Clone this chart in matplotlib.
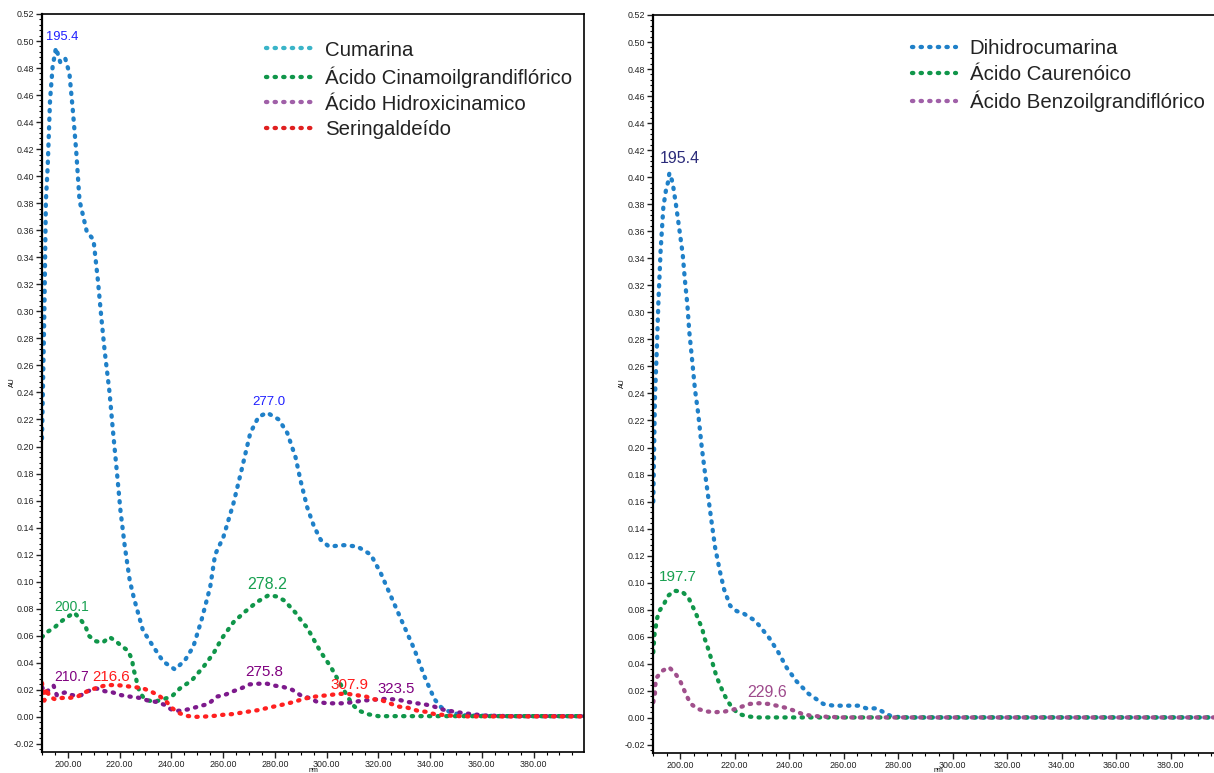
import matplotlib
matplotlib.use("Agg")
import matplotlib.pyplot as plt
from matplotlib.lines import Line2D
from matplotlib.ticker import MultipleLocator, FormatStrFormatter

plt.rcParams['font.family'] = ['Liberation Sans', 'DejaVu Sans']

# ---- left panel data (nm, AU) ----
cum_nm = [190, 190.9, 191.5, 192.2, 193.1, 194.1, 195.4, 197.1, 199, 200.6, 201.9, 203.2,
          204.5, 207.3, 209.9, 211.6, 212.9, 214.2, 216.1, 217.4, 219, 220.3, 222, 223.9,
          225.5, 229, 233, 236.8, 241.4, 245.3, 248.5, 251.7, 255, 256.9, 260.1, 264,
          267.3, 270.5, 273.7, 277, 281.5, 284.8, 288, 289.9, 292.5, 295.1, 297.7, 300.9,
          306.7, 311.9, 317.1, 321, 324.9, 328.8, 333.9, 337.8, 341.7, 344.3, 348.2, 354,
          370, 400]
cum_au = [0.206, 0.299, 0.382, 0.407, 0.456, 0.481, 0.495, 0.484, 0.487, 0.476, 0.449, 0.419,
          0.382, 0.359, 0.353, 0.323, 0.296, 0.271, 0.240, 0.212, 0.180, 0.153, 0.126, 0.101,
          0.088, 0.064, 0.052, 0.041, 0.035, 0.042, 0.052, 0.072, 0.096, 0.120, 0.133, 0.158,
          0.184, 0.210, 0.222, 0.225, 0.220, 0.210, 0.192, 0.175, 0.155, 0.141, 0.131, 0.126,
          0.127, 0.126, 0.120, 0.106, 0.089, 0.072, 0.050, 0.030, 0.013, 0.007, 0.003, 0.001,
          0.0005, 0.0005]

cin_nm = [190, 192.2, 194.8, 197, 199.9, 202.5, 204.9, 206.8, 208.1, 210.6, 213.5, 216.1,
          218.5, 221, 223.2, 224.9, 225.2, 226.2, 226.8, 227.8, 229.7, 233.2, 236.8, 240.1,
          243.3, 247.9, 252.4, 256.3, 259.5, 264, 268.6, 273.1, 277.6, 280.8, 283.7, 288,
          290.6, 292.5, 294.5, 297.7, 301.6, 304.8, 308.1, 310, 312.6, 315.8, 320, 400]
cin_au = [0.059, 0.063, 0.066, 0.070, 0.074, 0.077, 0.072, 0.067, 0.060, 0.056, 0.055, 0.059,
          0.056, 0.052, 0.049, 0.042, 0.036, 0.030, 0.024, 0.018, 0.013, 0.011, 0.013, 0.015,
          0.021, 0.027, 0.037, 0.047, 0.058, 0.070, 0.078, 0.085, 0.090, 0.089, 0.086, 0.077,
          0.070, 0.066, 0.059, 0.048, 0.037, 0.026, 0.015, 0.009, 0.0045, 0.002, 0.0005, 0.0005]

hid_nm = [190, 191.2, 192.8, 194.5, 195.7, 198.7, 201.7, 205.1, 207.7, 211, 214.2, 217.4,
          220.7, 223.9, 227.8, 231, 234.3, 237.2, 240.7, 244, 247.5, 251.1, 254.3, 257.6,
          260.4, 264, 266.9, 270.2, 273.7, 277, 280.2, 283.4, 286.7, 289.9, 293.1, 296.4,
          300.3, 303.5, 306.7, 310.6, 313.9, 317.4, 321, 324.2, 328.1, 331.4, 335, 338.5,
          341.7, 345.6, 348.8, 352, 356, 361, 370, 400]
hid_au = [0.022, 0.018, 0.020, 0.023, 0.016, 0.018, 0.016, 0.016, 0.019, 0.021, 0.019, 0.018,
          0.016, 0.015, 0.014, 0.012, 0.011, 0.009, 0.0045, 0.0045, 0.006, 0.008, 0.0095, 0.015,
          0.016, 0.019, 0.021, 0.024, 0.0245, 0.0245, 0.023, 0.022, 0.020, 0.016, 0.014, 0.011,
          0.010, 0.010, 0.010, 0.011, 0.012, 0.0125, 0.0132, 0.0132, 0.0125, 0.011, 0.010, 0.009,
          0.0075, 0.005, 0.004, 0.003, 0.002, 0.001, 0.0005, 0.0005]

ser_nm = [190, 190.5, 190.9, 191.8, 192.8, 195, 197.8, 200.6, 203.8, 206.4, 209, 212,
          215.1, 218.5, 221.7, 225.2, 228.4, 231.9, 235.3, 238.2, 240.1, 242.7, 245.9, 249.5,
          252.9, 256.5, 259.9, 263.4, 266.9, 270.2, 273.7, 277, 280.6, 284.1, 287.3, 290.6,
          293.8, 297.7, 300.9, 304.4, 308.1, 311.7, 315.2, 318.4, 321.7, 324.9, 328.1, 331.4,
          335.2, 338.5, 341.7, 345.6, 348.8, 355, 400]
ser_au = [0.025, 0.018, 0.012, 0.021, 0.015, 0.013, 0.014, 0.014, 0.015, 0.018, 0.020, 0.022,
          0.0235, 0.0235, 0.023, 0.022, 0.0215, 0.019, 0.0155, 0.011, 0.0067, 0.003, 0.0007, 0.0,
          0.0002, 0.0007, 0.0015, 0.002, 0.003, 0.004, 0.005, 0.0065, 0.008, 0.0095, 0.011, 0.013,
          0.0145, 0.0155, 0.016, 0.017, 0.017, 0.016, 0.015, 0.013, 0.012, 0.0096, 0.0075, 0.0067,
          0.0045, 0.0037, 0.002, 0.0013, 0.0007, 0.0003, 0.0003]

# ---- right panel data ----
dih_nm = [190.1, 190.4, 190.7, 191.4, 192, 192.8, 193.8, 194.8, 195.6, 196, 196.9, 197.5,
          198.4, 199.7, 200.9, 201.7, 202.6, 203.3, 204.2, 205.4, 206.6, 207.9, 209.1, 210.3,
          211.5, 212.8, 214.6, 216.1, 218.3, 220.7, 223.4, 226.6, 228.7, 230.7, 232.7, 236,
          239.1, 242.7, 247, 252.5, 256.2, 262, 265.3, 268.4, 272.1, 274.8, 277.6, 282, 400]
dih_au = [0.160, 0.199, 0.236, 0.273, 0.309, 0.346, 0.378, 0.391, 0.397, 0.403, 0.398, 0.392,
          0.380, 0.361, 0.343, 0.324, 0.306, 0.286, 0.268, 0.243, 0.225, 0.200, 0.181, 0.163,
          0.145, 0.126, 0.108, 0.095, 0.083, 0.079, 0.077, 0.073, 0.069, 0.064, 0.059, 0.0485,
          0.037, 0.027, 0.018, 0.0103, 0.009, 0.009, 0.009, 0.007, 0.007, 0.004, 0.001, 0.0003,
          0.0003]

cau_nm = [190.1, 190.5, 191, 191.4, 192.3, 194, 195.4, 197.7, 200.6, 203, 205.7, 206.9,
          208.1, 208.7, 209.7, 210.7, 211.5, 212.5, 213.4, 214.6, 215.8, 217.3, 218.9, 221.3,
          224.4, 228, 400]
cau_au = [0.0485, 0.061, 0.067, 0.073, 0.079, 0.084, 0.090, 0.094, 0.0935, 0.089, 0.0775, 0.0714,
          0.066, 0.060, 0.0546, 0.048, 0.043, 0.036, 0.030, 0.0244, 0.0185, 0.0128, 0.0079, 0.003,
          0.0012, 0.0003, 0.0003]

ben_nm = [190.1, 190.7, 190.8, 191.4, 193.6, 195.9, 198.1, 199.9, 201.1, 202.4, 203.9, 206.4,
          209.7, 213.1, 216.4, 219.5, 222.6, 225.6, 229, 232.3, 235.4, 238.8, 241.7, 244.6,
          247.6, 251.3, 260, 400]
ben_au = [0.0116, 0.0177, 0.0239, 0.030, 0.035, 0.0374, 0.033, 0.0276, 0.022, 0.016, 0.0103, 0.0066,
          0.0047, 0.0042, 0.0047, 0.0061, 0.0083, 0.0103, 0.0108, 0.0103, 0.009, 0.0074, 0.0054, 0.003,
          0.0017, 0.001, 0.0003, 0.0003]

left_names = ["Cumarina", "Ácido Cinamoilgrandiflórico", "Ácido Hidroxicinamico", "Seringaldeído"]
right_names = ["Dihidrocumarina", "Ácido Caurenóico", "Ácido Benzoilgrandiflórico"]

# peak labels: (text, nm, AU, colour, size)
left_peaks = [("195.4", 197.7, 0.503, "#1f1fff", 9.3),
              ("277.0", 277.8, 0.233, "#1f1fff", 9.5),
              ("200.1", 201.4, 0.081, "#17a050", 10),
              ("278.2", 277.0, 0.098, "#17a050", 11.5),
              ("210.7", 201.3, 0.0298, "#800080", 10),
              ("216.6", 216.5, 0.0298, "#ff1a1a", 10.8),
              ("275.8", 275.9, 0.0335, "#800080", 11),
              ("307.9", 308.8, 0.0232, "#ff1a1a", 11),
              ("323.5", 326.7, 0.0207, "#800080", 10.8)]
right_peaks = [("195.4", 199.9, 0.414, "#2b2b7a", 11.5),
               ("197.7", 199.1, 0.104, "#17a050", 11),
               ("229.6", 231.9, 0.019, "#9e4a8c", 11.5)]

BLUE = "#1f80c8"
GREEN = "#10964a"
PURPLE = "#7d1a8c"
PINK = "#a0508c"
RED = "#ff2020"

dot = dict(linestyle=(0, (0.3, 1.7)), linewidth=3.1, dash_capstyle="round")

fig = plt.figure(figsize=(12.14, 7.73), dpi=100)
axL = fig.add_axes([0.0346, 0.0272, 0.4465, 0.9547])
axR = fig.add_axes([0.5379, 0.0259, 0.4712, 0.9547])

axL.plot(cum_nm, cum_au, color=BLUE, **dot)
axL.plot(cin_nm, cin_au, color=GREEN, **dot)
axL.plot(hid_nm, hid_au, color=PURPLE, **dot)
axL.plot(ser_nm, ser_au, color=RED, **dot)

axR.plot(dih_nm, dih_au, color=BLUE, **dot)
axR.plot(cau_nm, cau_au, color=GREEN, **dot)
axR.plot(ben_nm, ben_au, color=PINK, **dot)

for t, x, y, c, s in left_peaks:
    axL.text(x, y, t, color=c, fontsize=s, ha="center", va="center")
for t, x, y, c, s in right_peaks:
    axR.text(x, y, t, color=c, fontsize=s, ha="center", va="center")

for ax, xmax in [(axL, 399.5), (axR, 400)]:
    ax.set_xlim(190, xmax)
    ax.set_ylim(-0.026, 0.52)
    ax.set_xticks(range(200, 381, 20))
    ax.xaxis.set_minor_locator(MultipleLocator(5))
    ax.yaxis.set_major_locator(MultipleLocator(0.02))
    ax.yaxis.set_minor_locator(MultipleLocator(0.004))
    ax.xaxis.set_major_formatter(FormatStrFormatter("%.2f"))
    ax.yaxis.set_major_formatter(FormatStrFormatter("%.2f"))
    ax.tick_params(which="major", length=4, width=1, labelsize=6.4, pad=1.5, colors="#222222")
    ax.tick_params(which="minor", length=2.2, width=0.8)
    for sp in ax.spines.values():
        sp.set_linewidth(1.2)
    ax.spines["left"].set_linewidth(1.6)

# legends with their own swatch colours
leg_kw = dict(loc="upper left", frameon=False, fontsize=14.7, handlelength=2.2,
              handletextpad=0.65, labelspacing=0.33, borderpad=0, borderaxespad=0,
              labelcolor="#222222")
hL = [Line2D([], [], color=c, **dot) for c in ["#3ab4c8", GREEN, "#a060a8", "#e02020"]]
axL.legend(hL, left_names, bbox_to_anchor=(0.414, 0.964), **leg_kw)
hR = [Line2D([], [], color=c, **dot) for c in [BLUE, GREEN, "#a060a8"]]
axR.legend(hR, right_names, bbox_to_anchor=(0.452, 0.967), **leg_kw)

# axis names sit tight against the edges
fig.text(12 / 1214, 1 - 382 / 773, "AU", rotation=90, fontsize=5, ha="center", va="center")
fig.text(622 / 1214, 1 - 383 / 773, "AU", rotation=90, fontsize=5, ha="center", va="center")
fig.text(313 / 1214, 1 - 770 / 773, "nm", fontsize=5, ha="center", va="center")
fig.text(938 / 1214, 1 - 771 / 773, "nm", fontsize=5, ha="center", va="center")

fig.savefig("out.png", dpi=100)
